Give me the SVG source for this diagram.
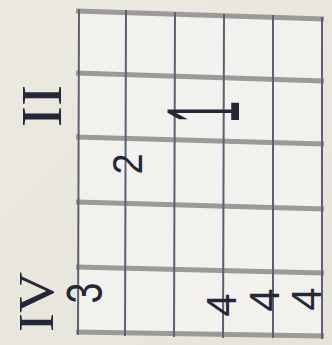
<svg xmlns="http://www.w3.org/2000/svg" width="332" height="345" viewBox="0 0 332 345">
  <defs>
    <linearGradient id="paper" x1="0" y1="0" x2="1" y2="1">
      <stop offset="0" stop-color="#ece9e0"/>
      <stop offset="1" stop-color="#e6e3da"/>
    </linearGradient>
    <style>
      .h { stroke: #9a9a9a; stroke-width: 5; fill: none; }
      .v { stroke: #5c6070; stroke-width: 2; fill: none; }
      .ink { fill: #24273a; font-family: "Liberation Sans", "DejaVu Sans", sans-serif; }
      .roman { fill: #24273a; font-family: "Liberation Serif", "DejaVu Serif", serif; }
    </style>
  </defs>
  <rect width="332" height="345" fill="url(#paper)"/>
  <polygon points="78,11 323,19 323,336 78,332" fill="#f2f1ed"/>
  <g id="grid">
    <line class="h" x1="76" y1="11" x2="324" y2="19"/>
    <line class="h" x1="76" y1="73" x2="324" y2="81"/>
    <line class="h" x1="76" y1="137" x2="324" y2="144"/>
    <line class="h" x1="76" y1="202" x2="324" y2="209"/>
    <line class="h" x1="76" y1="267" x2="324" y2="273"/>
    <line class="h" x1="76" y1="332" x2="324" y2="336"/>
    <line class="v" x1="79" y1="9" x2="78" y2="335"/>
    <line class="v" x1="126" y1="10" x2="125" y2="336"/>
    <line class="v" x1="175" y1="12" x2="174" y2="337"/>
    <line class="v" x1="224" y1="14" x2="223" y2="338"/>
    <line class="v" x1="273" y1="15" x2="273" y2="338"/>
    <line class="v" x1="322" y1="17" x2="322" y2="339"/>
  </g>
  <g id="labels">
    <text class="roman" font-size="40" text-anchor="middle" transform="translate(43,106) rotate(-90) scale(1.6,1.4)" y="13">II</text>
    <text class="roman" font-size="38" text-anchor="middle" transform="translate(36,302) rotate(-90) scale(1.5,1.35)" y="12.5">IV</text>
    <text class="ink" font-size="44" text-anchor="middle" transform="translate(84,293) rotate(-90) scale(0.85,1.15)" y="16">3</text>
    <text class="ink" font-size="38" text-anchor="middle" transform="translate(127,164) rotate(-90) scale(1,1.1)" y="14">2</text>
    <text class="ink" font-size="40" text-anchor="middle" transform="translate(203,112) rotate(-90) scale(1,2.6)" y="14">1</text>
    <text class="ink" font-size="42" text-anchor="middle" transform="translate(221,305) rotate(-90)" y="15">4</text>
    <text class="ink" font-size="42" text-anchor="middle" transform="translate(264,300) rotate(-90)" y="15">4</text>
    <text class="ink" font-size="42" text-anchor="middle" transform="translate(306,299) rotate(-90)" y="15">4</text>
  </g>
</svg>
